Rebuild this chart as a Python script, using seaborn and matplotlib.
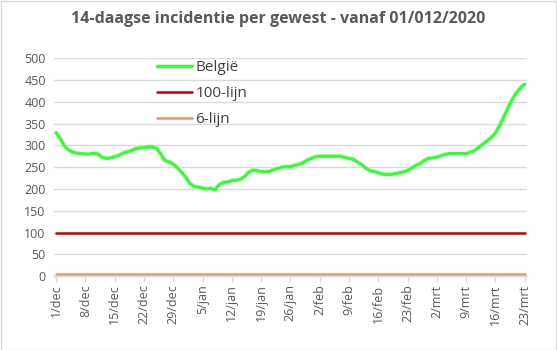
import numpy as np
import pandas as pd
import matplotlib
matplotlib.use("Agg")
import matplotlib.pyplot as plt
from matplotlib.patches import Rectangle
import seaborn as sns

# ---- data ----
start_date = "2020-12-01"
belgie = [329, 315, 298, 290, 284, 282, 281, 280, 280, 282,
          280, 272, 270, 271, 274, 277, 282, 285, 288, 292,
          294, 295, 296, 296, 293, 280, 265, 262, 257, 248,
          238, 227, 212, 206, 204, 202, 200, 201, 198, 210,
          215, 216, 219, 220, 222, 228, 238, 243, 242, 240,
          239, 240, 244, 247, 250, 251, 251, 254, 256, 260,
          266, 270, 274, 275, 275, 275, 275, 275, 275, 272,
          270, 268, 262, 256, 248, 242, 240, 237, 234, 233,
          233, 235, 237, 239, 242, 248, 254, 258, 265, 270,
          271, 273, 276, 279, 281, 281, 281, 281, 281, 284,
          288, 295, 303, 310, 318, 328, 345, 365, 385, 405,
          420, 432, 440]
lijn100 = [100] * len(belgie)
lijn6 = [6] * len(belgie)
tick_labels = ["1/dec", "8/dec", "15/dec", "22/dec", "29/dec", "5/jan", "12/jan",
               "19/jan", "26/jan", "2/feb", "9/feb", "16/feb", "23/feb", "2/mrt",
               "9/mrt", "16/mrt", "23/mrt"]
series_names = ["België", "100-lijn", "6-lijn"]
title = "14-daagse incidentie per gewest - vanaf 01/012/2020"

dates = pd.date_range(start_date, periods=len(belgie), freq="D")
df = pd.DataFrame({"datum": dates, series_names[0]: belgie,
                   series_names[1]: lijn100, series_names[2]: lijn6})

sns.set_style("white")
plt.rcParams["font.family"] = ["Open Sans", "DejaVu Sans"]

fig = plt.figure(figsize=(5.57, 3.5), dpi=100)
ax = fig.add_axes([0.097, 0.211, 0.85, 0.623])

colors = ["#33FF33", "#C00000", "#F4916A"]
widths = [2.4, 1.8, 1.8]
for name, c, w in zip(series_names, colors, widths):
    sns.lineplot(data=df, x="datum", y=name, ax=ax, color=c, linewidth=w, label=name)

ax.set_ylim(0, 500)
ax.set_yticks(np.arange(0, 501, 50))
ax.set_xlim(dates[0] - pd.Timedelta(hours=12), dates[-1] + pd.Timedelta(hours=16))
tick_dates = dates[::7]
ax.set_xticks(tick_dates)
ax.set_xticklabels(tick_labels, rotation=90)
ax.grid(axis="y", color="#D9D9D9", linewidth=1)
ax.grid(axis="x", visible=False)
ax.set_axisbelow(True)
for s in ["top", "right", "left"]:
    ax.spines[s].set_visible(False)
ax.spines["bottom"].set_color("#D9D9D9")
ax.spines["bottom"].set_linewidth(1)
ax.tick_params(axis="x", colors="#595959", labelsize=9, length=4, width=1, color="#D9D9D9", pad=2, bottom=True)
ax.tick_params(axis="y", colors="#595959", labelsize=9, length=0, pad=6)
ax.set_xlabel("")
ax.set_ylabel("")

leg = ax.legend(loc="upper left", bbox_to_anchor=(0.282, 0.829), bbox_transform=fig.transFigure,
                frameon=False, fontsize=11, handlelength=2.3, handletextpad=0.2,
                labelspacing=0.72, borderpad=0, borderaxespad=0)
for t in leg.get_texts():
    t.set_color("#404040")

fig.text(0.5, 0.946, title, ha="center", va="center", fontsize=11.5,
         fontweight="bold", color="#595959")

fig.patches.append(Rectangle((0.001, 0.001), 0.997, 0.997, transform=fig.transFigure,
                             fill=False, edgecolor="#D9D9D9", linewidth=1))

fig.savefig("out.png", dpi=100)
